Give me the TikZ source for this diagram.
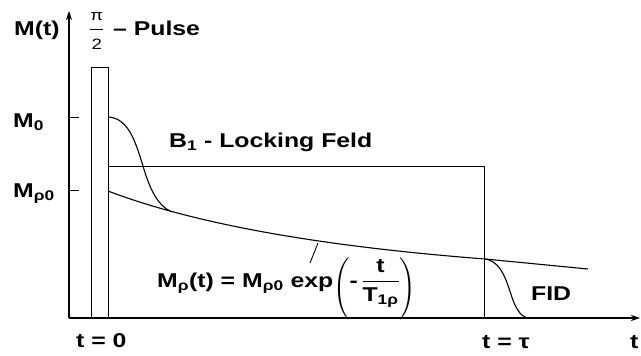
\documentclass[tikz,border=0pt]{standalone}
\usepackage{fontspec}
\usepackage{amsmath}
\setmainfont[FakeStretch=1.24]{Liberation Sans}
\usetikzlibrary{arrows.meta}
\tikzset{
  lbl/.style={font=\fontsize{20}{24}\bfseries\selectfont, inner sep=0pt, anchor=base west},
  curve/.style={line width=1.1pt},
  ax/.style={line width=1.1pt, -{Stealth[length=9pt,width=6pt]}},
  thin/.style={line width=0.9pt}
}
\newcommand{\lowparen}[1]{\raisebox{-7pt}{$\Bigg#1$}}
\begin{document}
\begin{tikzpicture}[x=1pt,y=-1pt]
\useasboundingbox (0,0) rectangle (641,356);
% axes
\coordinate (O) at (69,318);
\coordinate (Ytop) at (69,11);
\coordinate (Xend) at (640,318);
\draw[ax] (O) -- (Ytop);
\draw[ax] (O) -- (Xend);
% ticks
\coordinate (m0a) at (69,117); \coordinate (m0b) at (79,117);
\coordinate (mra) at (69,190); \coordinate (mrb) at (79,190);
\draw[thin] (m0a) -- (m0b);
\draw[thin] (mra) -- (mrb);
% pulse
\draw[thin] (91,318) -- (91,67) -- (108,67) -- (108,318);
% locking field box
\draw[thin] (108,166) -- (484,166) -- (484,318);
% decay curve
\draw[curve] (108,191) .. controls (200,226) and (330,247) .. (485,259) -- (588,269);
% M0 relaxation
\draw[curve] (108,117) .. controls (128,118) and (135,140) .. (143,166)
  .. controls (150,190) and (158,206) .. (172,212);
% FID
\draw[curve] (485,259) .. controls (505,262) and (508,290) .. (515,305)
  .. controls (520,315) and (524,318) .. (530,318);
% label pointer
\coordinate (pa) at (318,243); \coordinate (pb) at (310,263);
\draw[thin] (pa) -- (pb);
% texts
\node[lbl] (Mt) at (14,35) {M(t)};
\node[lbl, anchor=west] (frac) at (89,31) {$\dfrac{\text{\fontsize{15}{15}\mdseries\selectfont π}}{\text{\fontsize{15}{15}\mdseries\selectfont 2}}$};
\node[lbl] (pulse) at (113,35) {– Pulse};
\node[lbl] (M0) at (13,127) {M\textsubscript{0}};
\node[lbl] (Mr0) at (13,197) {M\textsubscript{ρ0}};
\node[lbl] (B1) at (169,147) {B\textsubscript{1} - Locking Feld};
\node[lbl] (form) at (157,287) {M\textsubscript{ρ}(t) = M\textsubscript{ρ0} exp\lowparen(-\,$\dfrac{\text{t}}{\text{T\textsubscript{1ρ}}}$\lowparen)};
\node[lbl] (FID) at (531,300) {FID};
\node[lbl] (t0) at (76,347) {t = 0};
\node[lbl] (ttau) at (482,348) {t = τ};
\node[lbl] (t) at (630,348) {t};
\end{tikzpicture}
\end{document}
